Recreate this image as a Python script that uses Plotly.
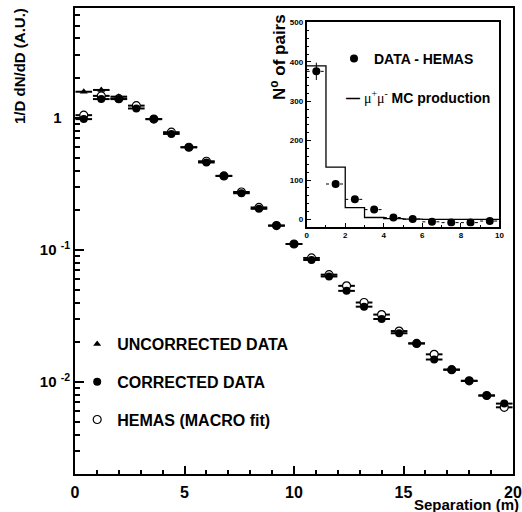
import plotly.graph_objects as go

# ---------------- main plot data ----------------
separation = [0.4, 1.2, 2.0, 2.8, 3.6, 4.4, 5.2, 6.0, 6.8, 7.6, 8.4, 9.2, 10.0,
              10.8, 11.6, 12.4, 13.2, 14.0, 14.8, 15.6, 16.4, 17.2, 18.0, 18.8, 19.6]
bin_half = [0.38] * 25
corrected = [0.98, 1.39, 1.39, 1.18, 0.98, 0.757, 0.60, 0.46, 0.364, 0.269, 0.205,
             0.153, 0.111, 0.084, 0.063, 0.049, 0.0372, 0.030, 0.0234, 0.0196,
             0.0148, 0.0124, 0.0102, 0.0079, 0.00686]
hemas = [1.05, 1.47, 1.40, 1.24, 0.98, 0.78, 0.60, 0.47, 0.364, 0.275, 0.21,
         0.153, 0.111, 0.087, 0.065, 0.0535, 0.040, 0.0324, 0.0243, 0.0196,
         0.0162, 0.0124, 0.0102, 0.0079, 0.00643]
uncorr_x = [0.4, 1.2, 2.0]
uncorrected = [1.58, 1.63, 1.45]

# ---------------- inset data ----------------
inset_x = [0.5, 1.5, 2.5, 3.5, 4.5, 5.5, 6.5, 7.5, 8.5, 9.5]
inset_data = [376, 90, 51, 25, 5, 1, -6, -8, -8, -4]
inset_err = [22, 10, 7, 5, 4, 4, 4, 4, 4, 4]
mc_edges = [0, 1, 2, 3, 4, 5, 6, 7, 8, 9, 10]
mc_counts = [390, 133, 30, 5, 2, 1, 0, 0, 0, 0]

y_ticks = [0.01, 0.1, 1]
y_ticktext = ["10 <sup>-2</sup>", "10 <sup>-1</sup>", "1\u00a0\u00a0"]

FONT = "Liberation Sans"
fig = go.Figure()

# main traces
fig.add_trace(go.Scatter(
    x=uncorr_x, y=uncorrected, mode="markers", name="UNCORRECTED DATA",
    marker=dict(symbol="triangle-up", size=7, color="black"),
    error_x=dict(type="data", array=bin_half[:3], thickness=2, width=0, color="black"),
    legendrank=1, legendgroup="a"))
fig.add_trace(go.Scatter(
    x=separation, y=hemas, mode="markers", name="HEMAS (MACRO fit)",
    marker=dict(symbol="circle", size=8, color="white", line=dict(color="black", width=1.2)),
    error_x=dict(type="data", array=bin_half, thickness=2, width=0, color="black"),
    legendrank=3, legendgroup="c"))
fig.add_trace(go.Scatter(
    x=separation, y=corrected, mode="markers", name="CORRECTED DATA",
    marker=dict(symbol="circle", size=8, color="black"),
    error_x=dict(type="data", array=bin_half, thickness=2, width=0, color="black"),
    legendrank=2, legendgroup="b"))

# inset traces
fig.add_trace(go.Scatter(
    x=mc_edges, y=mc_counts + [mc_counts[-1]], mode="lines", line_shape="hv",
    line=dict(color="black", width=1.3), name="μ+μ- MC production",
    xaxis="x2", yaxis="y2", showlegend=False))
seg_x, seg_y = [], []
for xi, yi in zip(inset_x, inset_data):
    seg_x += [xi - 0.5, xi + 0.5, None]
    seg_y += [yi, yi, None]
fig.add_trace(go.Scatter(
    x=seg_x, y=seg_y, mode="lines", line=dict(color="black", width=1, dash="3px,4px"),
    showlegend=False, xaxis="x2", yaxis="y2", hoverinfo="skip"))
fig.add_trace(go.Scatter(
    x=inset_x, y=inset_data, mode="markers", name="DATA - HEMAS",
    marker=dict(symbol="circle", size=8, color="black"),
    error_y=dict(type="data", array=inset_err, thickness=1, width=0, color="black"),
    xaxis="x2", yaxis="y2", legend="legend2"))

axis_common = dict(showline=True, linewidth=2, linecolor="black", mirror=True,
                   showgrid=False, zeroline=False, ticks="inside", tickcolor="black",
                   automargin=False)

fig.update_layout(
    width=522, height=512,
    margin=dict(l=75, r=9, t=8, b=38, autoexpand=False),
    paper_bgcolor="white", plot_bgcolor="white",
    font=dict(family=FONT, color="black", size=15, weight="bold"),
    xaxis=dict(**axis_common, range=[0, 20], tickvals=[0, 5, 10, 15, 20],
               ticklen=8, tickwidth=1.5,
               minor=dict(ticks="inside", ticklen=4, dtick=1, tickwidth=1.5, tickcolor="black"),
               tickfont=dict(size=16, family=FONT, weight="bold"), ticklabelstandoff=3),
    yaxis=dict(**axis_common, type="log", range=[-2.697, 0.833],
               tickvals=y_ticks, ticktext=y_ticktext, ticklen=9, tickwidth=1.5,
               minor=dict(ticks="inside", ticklen=5, dtick="D1", tickwidth=1.5, tickcolor="black"),
               tickfont=dict(size=15, family=FONT, weight="bold")),
    xaxis2=dict(**axis_common, domain=[0.529, 0.969], anchor="y2", range=[0, 10],
                dtick=2, ticklen=4, tickwidth=1,
                minor=dict(ticks="inside", ticklen=2, dtick=1, tickcolor="black"),
                tickfont=dict(size=8, family=FONT, weight="bold")),
    yaxis2=dict(**axis_common, domain=[0.531, 0.9706], anchor="x2", range=[-18, 502],
                dtick=100, ticklen=4, tickwidth=1,
                minor=dict(ticks="inside", ticklen=2, dtick=20, tickcolor="black"),
                tickfont=dict(size=8, family=FONT, weight="bold")),
    legend=dict(x=0.005, y=(474 - 327) / 466, xanchor="left", yanchor="top",
                bgcolor="rgba(0,0,0,0)", font=dict(size=16, family=FONT, weight="bold"),
                traceorder="grouped", tracegroupgap=14),
    legend2=dict(x=(334 - 75) / 438, y=(474 - 43) / 466, xanchor="left", yanchor="top",
                 bgcolor="rgba(0,0,0,0)", font=dict(size=14, family=FONT, weight="bold")),
    showlegend=True,
    annotations=[
        dict(text="1/D dN/dD (A.U.)", textangle=-90, xref="paper", yref="paper",
             x=(20 - 75) / 438, y=(474 - 6) / 466, xanchor="center", yanchor="top",
             showarrow=False, font=dict(size=15, family=FONT, weight="bold")),
        dict(text="N<sup>o</sup> of pairs", textangle=-90, xref="paper", yref="paper",
             x=(278 - 75) / 438, y=(474 - 12) / 466, xanchor="center", yanchor="top",
             showarrow=False, font=dict(size=17, family=FONT, weight="bold")),
        dict(text="— <span style='font-family:Liberation Serif;font-weight:normal'>μ<sup>+</sup>μ<sup>-</sup></span> MC production",
             xref="paper", yref="paper",
             x=(344 - 75) / 438, y=(474 - 97) / 466, xanchor="left", yanchor="middle",
             showarrow=False, font=dict(size=14, family=FONT, weight="bold")),
        dict(text="Separation (m)", xref="paper", yref="paper",
             x=(521 - 75) / 438, y=(474 - 505) / 466, xanchor="right", yanchor="middle",
             showarrow=False, font=dict(size=15, family=FONT, weight="bold")),
    ],
)

fig.write_html("out.html")
